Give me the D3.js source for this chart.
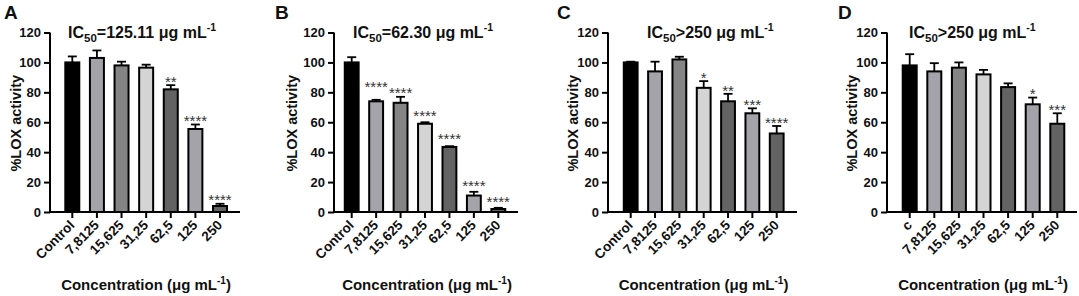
<!DOCTYPE html>
<html><head><meta charset="utf-8">
<script src="https://cdn.jsdelivr.net/npm/d3@7/dist/d3.min.js"></script>
<style>
body{margin:0;background:#fff;}
svg{display:block;font-family:"Liberation Sans",Arial,sans-serif;}
</style></head>
<body>
<svg id="c" width="1079" height="296"></svg>
<script>
// ---- data ----
const categories = ["Control","7,8125","15,625","31,25","62,5","125","250"];
const categoriesD = ["c","7,8125","15,625","31,25","62,5","125","250"];
const yTicks = [0,20,40,60,80,100,120];
const panelLetters = ["A","B","C","D"];
const ic50Text = ["=125.11","=62.30",">250",">250"];

const valuesA = [100, 103, 98, 96.5, 82, 55.5, 4];
const errorsA = [4, 5, 2.5, 2, 2.8, 3, 1.5];
const starsA  = ["","","","","**","****","****"];

const valuesB = [100, 74, 73, 59, 43.5, 11, 2];
const errorsB = [3.5, 1, 4, 1, 0.5, 2.5, 0.8];
const starsB  = ["","****","****","****","****","****","****"];

const valuesC = [100, 94, 102, 83, 74, 66, 52.5];
const errorsC = [0.5, 6.5, 1.8, 4.5, 5, 3.3, 5];
const starsC  = ["","","","*","**","***","****"];

const valuesD = [98, 94, 96.5, 92, 83.5, 72, 59];
const errorsD = [7.5, 5.5, 3.5, 3, 2.5, 4.5, 7];
const starsD  = ["","","","","","*","***"];

const barColors = ["#000000","#a3a3a9","#858585","#d4d4d4","#636363","#a3a3a9","#636363"];

// ---- layout ----
const panels = [
  {letter:panelLetters[0], cats:categories,  vals:valuesA, errs:errorsA, stars:starsA, ic:ic50Text[0],
   axisX:50,  c0:72.3,  cN:220,   end:240,  letterX:4,   yTitleX:16,  titleX:68,  starOff:[7,7,7,7,7,7,7]},
  {letter:panelLetters[1], cats:categories,  vals:valuesB, errs:errorsB, stars:starsB, ic:ic50Text[1],
   axisX:334, c0:351.7, cN:498.3, end:518,  letterX:275, yTitleX:292, titleX:353, starOff:[0,16,7,10,11,9,9]},
  {letter:panelLetters[2], cats:categories,  vals:valuesC, errs:errorsC, stars:starsC, ic:ic50Text[2],
   axisX:608, c0:630.7, cN:776.7, end:797,  letterX:557, yTitleX:573, titleX:647, starOff:[7,7,7,7,6,7,7]},
  {letter:panelLetters[3], cats:categoriesD, vals:valuesD, errs:errorsD, stars:starsD, ic:ic50Text[3],
   axisX:887, c0:909.7, cN:1057.3,end:1077, letterX:838, yTitleX:852, titleX:909, starOff:[7,7,7,7,7,7,7]}
];
const yTop = 32.5, yBase = 212;

const svg = d3.select("#c");
const y = d3.scaleLinear().domain([0,120]).range([yBase, yTop]);

panels.forEach(p => {
  const g = svg.append("g");
  const step = (p.cN - p.c0) / (p.cats.length - 1);
  const x = d3.scaleBand().domain(p.cats)
    .range([p.c0 - step/2, p.cN + step/2])
    .paddingInner(0.35).paddingOuter(0.175);

  // bars
  g.selectAll("rect.bar").data(p.vals).join("rect")
    .attr("x", (d,i) => x(p.cats[i]) + 1)
    .attr("width", x.bandwidth() - 2)
    .attr("y", d => y(d))
    .attr("height", d => yBase - y(d))
    .attr("fill", (d,i) => barColors[i])
    .attr("stroke", "#000").attr("stroke-width", 2);

  // error bars (upper)
  p.vals.forEach((v,i) => {
    const cx = x(p.cats[i]) + x.bandwidth()/2;
    const yt = y(v + p.errs[i]);
    g.append("line").attr("x1",cx).attr("x2",cx).attr("y1",y(v)).attr("y2",yt)
      .attr("stroke","#000").attr("stroke-width",1.8);
    g.append("line").attr("x1",cx-4.5).attr("x2",cx+4.5).attr("y1",yt).attr("y2",yt)
      .attr("stroke","#000").attr("stroke-width",1.8);
    if (p.stars[i]) {
      g.append("text").attr("x",cx).attr("y", yt - p.starOff[i] + 8.6)
        .attr("text-anchor","middle").attr("font-size",15).attr("fill","#333")
        .text(p.stars[i]);
    }
  });

  // y axis
  const ya = g.append("g").attr("transform",`translate(${p.axisX},0)`)
    .call(d3.axisLeft(y).tickValues(yTicks).tickSize(6).tickPadding(3).tickSizeOuter(0));
  ya.select(".domain").attr("stroke-width",2).attr("d",`M0,${yTop}V${yBase+1}`);
  ya.selectAll(".tick line").attr("stroke-width",2);
  ya.selectAll(".tick text").attr("font-size",13).attr("font-weight","bold")
    .attr("font-family","Liberation Sans, Arial, sans-serif").attr("fill","#111");

  // x axis
  const xa = g.append("g").attr("transform",`translate(0,${yBase})`)
    .call(d3.axisBottom(x).tickSize(6).tickSizeOuter(0).tickFormat(""));
  xa.select(".domain").attr("stroke-width",2).attr("d",`M${p.axisX-1},0H${p.end}`);
  xa.selectAll(".tick line").attr("stroke-width",2);
  p.cats.forEach(c => {
    const cx = x(c) + x.bandwidth()/2;
    g.append("text")
      .attr("transform",`translate(${cx+3},${yBase+14}) rotate(-45)`)
      .attr("text-anchor","end").attr("font-size",13.5).attr("font-weight","bold").attr("fill","#111")
      .text(c);
  });

  // y title
  g.append("text")
    .attr("transform",`translate(${p.yTitleX+5},${(yTop+yBase)/2 + 1}) rotate(-90)`)
    .attr("text-anchor","middle").attr("font-size",14.5).attr("font-weight","bold").attr("fill","#111")
    .text("%LOX activity");

  // x title
  const xt = g.append("text").attr("x",(p.axisX+p.end)/2 + 1).attr("y",290)
    .attr("text-anchor","middle").attr("font-size",15).attr("font-weight","bold").attr("fill","#111");
  xt.append("tspan").text("Concentration (μg mL");
  xt.append("tspan").attr("font-size",10).attr("dy",-6).text("-1");
  xt.append("tspan").attr("dy",6).text(")");

  // title
  const tt = g.append("text").attr("x",p.titleX).attr("y",37.5)
    .attr("font-size",16).attr("font-weight","bold").attr("fill","#111");
  tt.append("tspan").text("IC");
  tt.append("tspan").attr("font-size",11.5).attr("dy",4).text("50");
  tt.append("tspan").attr("dy",-4).text(p.ic + " μg mL");
  tt.append("tspan").attr("font-size",10.5).attr("dy",-7).text("-1");

  // panel letter
  g.append("text").attr("x",p.letterX).attr("y",18.5)
    .attr("font-size",19).attr("font-weight","bold").attr("fill","#111").text(p.letter);
});
</script>
</body></html>
